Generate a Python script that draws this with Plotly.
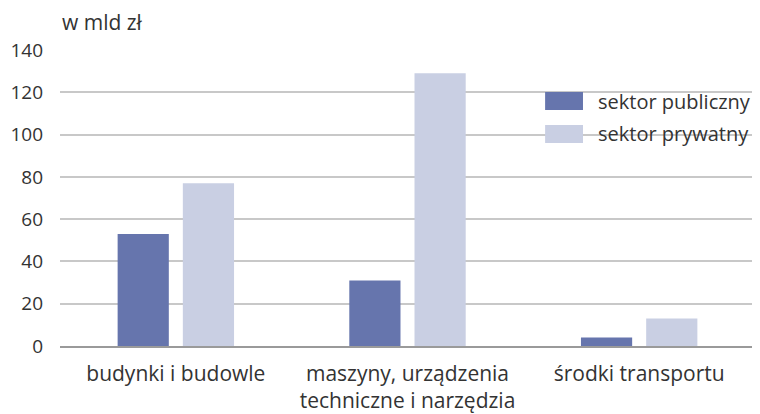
import plotly.graph_objects as go

categories = ["budynki i budowle", "maszyny, urządzenia<br>techniczne i narzędzia", "środki transportu"]
public_vals = [53, 31, 4]
private_vals = [77, 129, 13]
series_names = ["sektor publiczny", "sektor prywatny"]
tick_vals = [0, 20, 40, 60, 80, 100, 120, 140]

col_pub = "#6675ad"
col_priv = "#c9cfe3"
font_family = "Open Sans, sans-serif"
text_col = "#333333"
fsize = 21
lsize = 20
ysize = 19

fig = go.Figure()
fig.add_trace(go.Bar(x=categories, y=public_vals, name=series_names[0],
                     marker=dict(color=col_pub, line=dict(width=0)), showlegend=False))
fig.add_trace(go.Bar(x=categories, y=private_vals, name=series_names[1],
                     marker=dict(color=col_priv, line=dict(width=0)), showlegend=False))

# custom legend (swatches + labels)
sw = [(0.797, 0.858), (0.686, 0.747)]
for (y0, y1), nm, c in zip(sw, series_names, [col_pub, col_priv]):
    fig.add_shape(type="rect", xref="paper", yref="paper",
                  x0=0.698, x1=0.7525, y0=y0, y1=y1,
                  fillcolor=c, line=dict(width=0), layer="above")
    fig.add_annotation(xref="paper", yref="paper", x=0.771, y=(y0 + y1) / 2,
                       text=nm, showarrow=False, xanchor="left", yanchor="middle",
                       font=dict(size=lsize, color=text_col, family=font_family))

fig.add_annotation(xref="paper", yref="paper", x=0.0, y=1.0, yshift=28,
                   text="w mld zł", showarrow=False, xanchor="left", yanchor="middle",
                   font=dict(size=fsize, color=text_col, family=font_family))

fig.update_layout(
    width=752, height=406,
    margin=dict(l=52, r=5, t=42, b=68),
    plot_bgcolor="white", paper_bgcolor="white",
    barmode="group", bargap=0.437, bargroupgap=0.215,
    font=dict(family=font_family, size=fsize, color=text_col),
    xaxis=dict(showgrid=False, showline=True, linecolor="#9a9a9a", linewidth=1.5,
               ticks="", ticklabelstandoff=8, tickfont=dict(size=fsize), automargin=False),
    yaxis=dict(range=[0, 140], tickvals=tick_vals, showgrid=True,
               gridcolor="#c8c8c8", gridwidth=1.5, zeroline=False,
               ticks="", ticklabelstandoff=16, tickfont=dict(size=ysize), automargin=False),
)

fig.write_html("out.html")
